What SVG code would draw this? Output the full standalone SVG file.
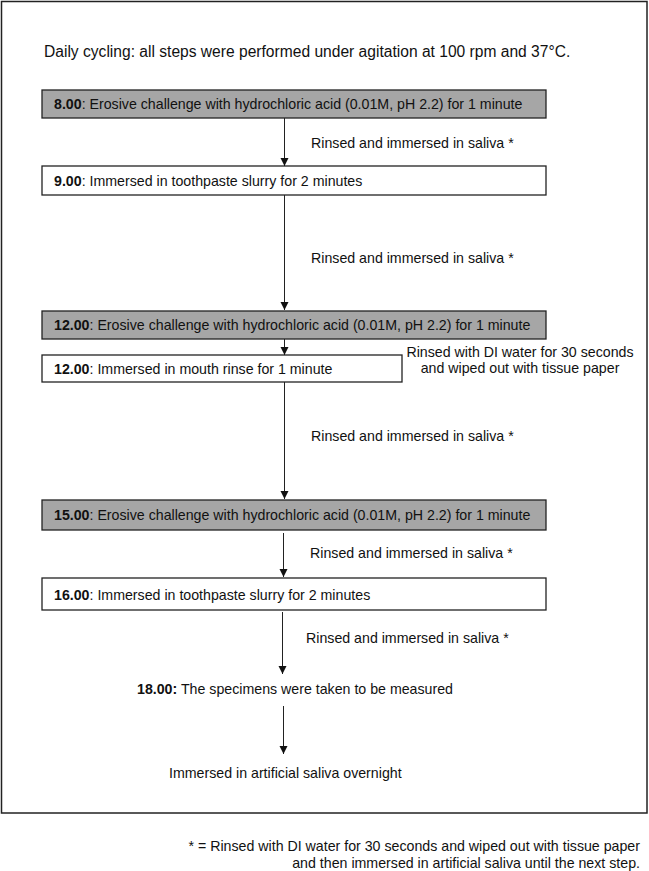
<svg xmlns="http://www.w3.org/2000/svg" width="649" height="871" viewBox="0 0 649 871">
<style>
text{font-family:"Liberation Sans",Arial,sans-serif;font-size:14.2px;fill:#111}
.b{font-weight:bold}
.box{stroke:#222;stroke-width:1.3}
.gray{fill:#a6a6a6}
.white{fill:#fff}
.con{stroke:#222;stroke-width:1;fill:none;marker-end:url(#ah)}
</style>
<defs>
<marker id="ah" markerWidth="8" markerHeight="10" refX="8" refY="5" orient="auto" markerUnits="userSpaceOnUse">
<path d="M0,1 L8,5 L0,9 Z" fill="#111"/>
</marker>
</defs>
<rect x="0" y="0" width="649" height="871" fill="#fff"/>
<rect x="1.5" y="1.5" width="645.5" height="811.5" fill="none" stroke="#222" stroke-width="1.5"/>
<g id="title"><text x="44" y="57" style="font-size:15.6px">Daily cycling: all steps were performed under agitation at 100 rpm and 37°C.</text></g>
<g id="n1"><rect class="box gray" x="42" y="90" width="504" height="28"/><text x="54" y="109"><tspan class="b">8.00</tspan>: Erosive challenge with hydrochloric acid (0.01M, pH 2.2) for 1 minute</text></g>
<g id="n2"><rect class="box white" x="42" y="166" width="504" height="29"/><text x="54" y="185.5"><tspan class="b">9.00</tspan>: Immersed in toothpaste slurry for 2 minutes</text></g>
<g id="n3"><rect class="box gray" x="42" y="311" width="504" height="28"/><text x="54" y="330"><tspan class="b">12.00</tspan>: Erosive challenge with hydrochloric acid (0.01M, pH 2.2) for 1 minute</text></g>
<g id="n4"><rect class="box white" x="42" y="355" width="360" height="27"/><text x="54" y="373.5"><tspan class="b">12.00</tspan>: Immersed in mouth rinse for 1 minute</text></g>
<g id="n4note"><text x="520" y="357" text-anchor="middle">Rinsed with DI water for 30 seconds</text><text x="520" y="373" text-anchor="middle">and wiped out with tissue paper</text></g>
<g id="n5"><rect class="box gray" x="42" y="500" width="504" height="30"/><text x="54" y="520"><tspan class="b">15.00</tspan>: Erosive challenge with hydrochloric acid (0.01M, pH 2.2) for 1 minute</text></g>
<g id="n6"><rect class="box white" x="42" y="578" width="504" height="32"/><text x="54" y="599.5"><tspan class="b">16.00</tspan>: Immersed in toothpaste slurry for 2 minutes</text></g>
<g id="n7"><text x="137" y="694"><tspan class="b">18.00:</tspan> The specimens were taken to be measured</text></g>
<g id="n8"><text x="169" y="778">Immersed in artificial saliva overnight</text></g>
<g id="connectors">
<line class="con" x1="284.5" y1="118" x2="284.5" y2="166"/>
<line class="con" x1="284.5" y1="195" x2="284.5" y2="310"/>
<line class="con" x1="284.5" y1="339" x2="284.5" y2="355"/>
<line class="con" x1="284.5" y1="382" x2="284.5" y2="499"/>
<line class="con" x1="283.5" y1="533" x2="283.5" y2="577"/>
<line class="con" x1="282.5" y1="612" x2="282.5" y2="674"/>
<line class="con" x1="283.5" y1="706" x2="283.5" y2="754"/>
</g>
<g id="labels">
<text x="311" y="147.5">Rinsed and immersed in saliva *</text>
<text x="311" y="263">Rinsed and immersed in saliva *</text>
<text x="311" y="441">Rinsed and immersed in saliva *</text>
<text x="310" y="558">Rinsed and immersed in saliva *</text>
<text x="306" y="643">Rinsed and immersed in saliva *</text>
</g>
<g id="footnote">
<text x="640" y="851" text-anchor="end">* = Rinsed with DI water for 30 seconds and wiped out with tissue paper</text>
<text x="640" y="868" text-anchor="end">and then immersed in artificial saliva until the next step.</text>
</g>
</svg>
